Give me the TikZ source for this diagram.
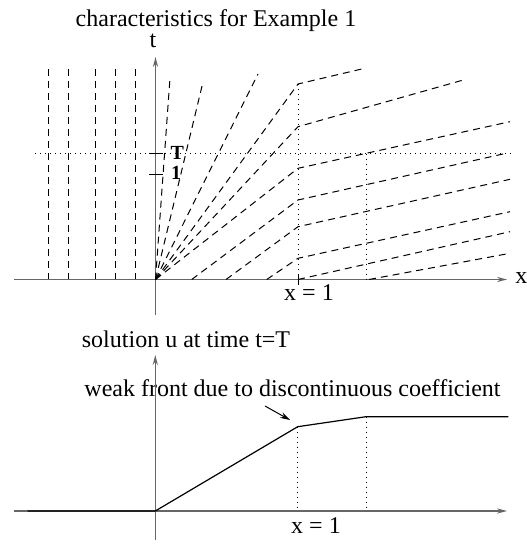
\documentclass[tikz,border=0pt]{standalone}
\usepackage{fontspec}
\setmainfont{Liberation Serif}
\usetikzlibrary{arrows.meta}

\tikzset{
  axisline/.style={black!60, line width=0.7pt, -{Stealth[length=5pt,width=2.6pt]}},
  charline/.style={line width=0.5pt, dash pattern=on 3.5pt off 2.5pt},
  guideline/.style={line width=0.5pt, dotted},
  lbl/.style={anchor=base, inner sep=0pt, font=\fontsize{12}{14}\selectfont},
  ticklbl/.style={anchor=base, inner sep=0pt, font=\fontsize{10}{12}\selectfont\bfseries}
}

\begin{document}
\begin{tikzpicture}[x=0.5pt, y=-0.5pt]
\useasboundingbox (0,0) rectangle (526,544);

% Upper panel: characteristics
\coordinate (O) at (155.5,279.5);
\coordinate (K) at (298,279.5);
\node[lbl] (title) at (216,26.7) {characteristics for Example 1};

% Axis
\draw[axisline] (14,279.5) -- (507,279.5);
\draw[axisline] (155.5,315) -- (155.5,57);
\node[lbl] (tlab) at (153,47.7) {t};
\node[lbl, anchor=base west] (xlab) at (515,284) {x};

% Level t = T and ticks
\draw[guideline] (35,153.7) -- (513,153.7);
\draw[line width=0.5pt] (149,153.7) -- (163,153.7);
\draw[line width=0.5pt] (149,174.3) -- (163,174.3);
\node[ticklbl] (Tlab) at (177.3,159.3) {T};
\node[ticklbl] (onelab) at (176,180) {1};
\draw[line width=0.5pt] (298,275) -- (298,285);
\node[lbl] (xone) at (309,300.5) {x = 1};

% Vertical guides
\draw[guideline] (298,84) -- (K);
\draw[guideline] (366.5,153.7) -- (366.5,279.5);

% Characteristics for x < 0
\foreach \x in {48.3,68.3,95.7,115.7,135.7}
  \draw[charline] (\x,69) -- (\x,279.5);

% Fan from the origin
\draw[charline] (O) -- (170,78);
\draw[charline] (O) -- (203,82);
\draw[charline] (O) -- (258,74);
\draw[charline] (O) -- (298,84) -- (361.7,69);
\draw[charline] (O) -- (298,126.7) -- (463.3,80);
\draw[charline] (O) -- (298,168.3) -- (510,121.7);

% Characteristics from the x axis
\draw[charline] (191.7,279.5) -- (298,200) -- (503,154);
\draw[charline] (226,279.5) -- (298,226.7) -- (510,179.3);
\draw[charline] (266.7,279.5) -- (298,258.3) -- (510,211.7);
\draw[charline] (K) -- (510,231.7);
\draw[charline] (369,279.5) -- (510,253.3);

% Lower panel: solution at t = T
\coordinate (P) at (155.3,511);
\coordinate (A) at (297.7,426.7);
\coordinate (B) at (366,416.7);
\node[lbl] (sol) at (186,347.3) {solution u at time t=T};
\node[lbl] (front) at (292.5,396) {weak front due to discontinuous coefficient};
\coordinate (fronttail) at (265,406);
\coordinate (fronthead) at (290,420);

\draw[axisline] (14,511) -- (507,511);
\draw[axisline] (155.3,540) -- (155.3,355);

\draw[guideline] (A) -- (297.7,511);
\draw[guideline] (B) -- (366,511);

\draw[line width=0.6pt] (27.7,511) -- (P) -- (A) -- (B) -- (508.3,416.7);
\draw[line width=0.5pt, -{Stealth[length=5pt,width=3pt]}] (fronttail) -- (fronthead);
\node[lbl] (xtwo) at (316,533) {x = 1};

\end{tikzpicture}
\end{document}
